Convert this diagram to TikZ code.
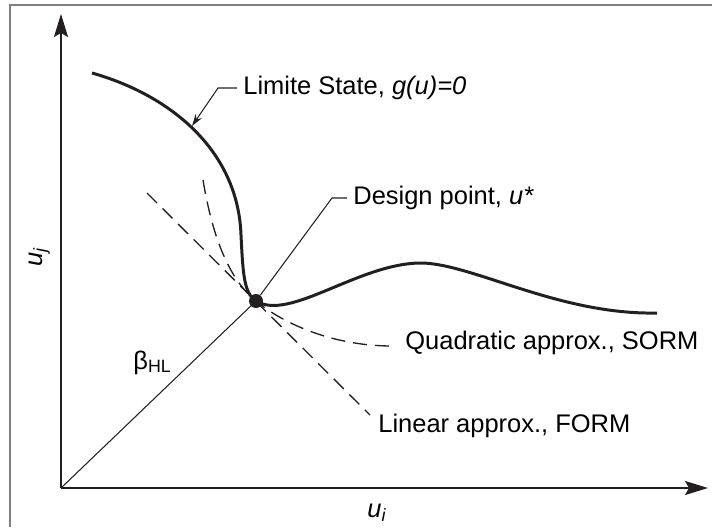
\documentclass[tikz,border=0pt]{standalone}
\usepackage{fontspec}
\setmainfont{Liberation Sans}
\usetikzlibrary{arrows.meta,positioning,calc}
\definecolor{ink}{HTML}{231F20}
\definecolor{framegray}{HTML}{808080}

\begin{document}
\begin{tikzpicture}[x=0.02cm,y=-0.02cm,font=\fontsize{14.5pt}{17pt}\selectfont,
  lbl/.style={inner xsep=1.2mm,inner ysep=0pt,anchor=west,text height=0.73em,text depth=0pt},
  lead/.style={ink,line width=0.6pt},
  approx/.style={ink,line width=0.75pt,dash pattern=on 8pt off 4.5pt},
  axis/.style={ink,line width=1.1pt,-{Stealth[length=4.6mm,width=2.8mm,inset=0.8mm]}}]
\useasboundingbox (0,0) rectangle (712,527);
% frame
\draw[framegray,line width=1.1pt] (10,527) |- (712,5);
% axes
\coordinate (O) at (61,488);
\coordinate (xend) at (708,488);
\coordinate (yend) at (61,14);
\draw[axis] (O) -- (xend);
\draw[axis] (O) -- (yend);
\node[inner sep=0pt,anchor=base west] (ui) at (367,517) {\itshape u\textsubscript{i}};
\node[inner sep=0pt,anchor=base west,rotate=90] (uj) at (42,267) {\itshape u\textsubscript{j}};
% design point and reliability index
\coordinate (dpc) at (256,301);
\draw[lead] (O) -- (dpc);
\node[inner sep=0pt,anchor=base west] (beta) at (133,369) {β\textsubscript{HL}};
% approximations
\draw[approx] (147,193) -- (370,415);
\draw[approx] (203,180) .. controls (213,240) and (230,280) .. (dpc)
  .. controls (285,325) and (335,346) .. (392,346);
\node[lbl] (forml) at (372,426) {Linear approx., FORM};
\node[lbl] (sorml) at (399,343) {Quadratic approx., SORM};
% limit state
\draw[ink,line width=1.7pt] (92,73) .. controls (170,95) and (238,150) .. (241,235)
  .. controls (243,275) and (244,293) .. (dpc)
  .. controls (290,322) and (360,262) .. (423,263)
  .. controls (475,265) and (560,315) .. (657,313);
\node[circle,fill=ink,inner sep=0pt,minimum size=2.8mm] (dp) at (dpc) {};
% leaders
\node[lbl] (lsl) at (237,88) {Limite State, \textit{g(u)=0}};
\coordinate (lsa) at (192,126);
\coordinate (lsk) at (218,88);
\draw[lead,{Stealth[length=2.4mm,width=1.5mm]}-] (lsa) -- (lsk) -- (lsl.west);
\node[lbl] (dpl) at (347,198) {Design point, \textit{u*}};
\coordinate (dpk) at (332,198);
\draw[lead] (dp) -- (dpk) -- (dpl.west);
\end{tikzpicture}
\end{document}
